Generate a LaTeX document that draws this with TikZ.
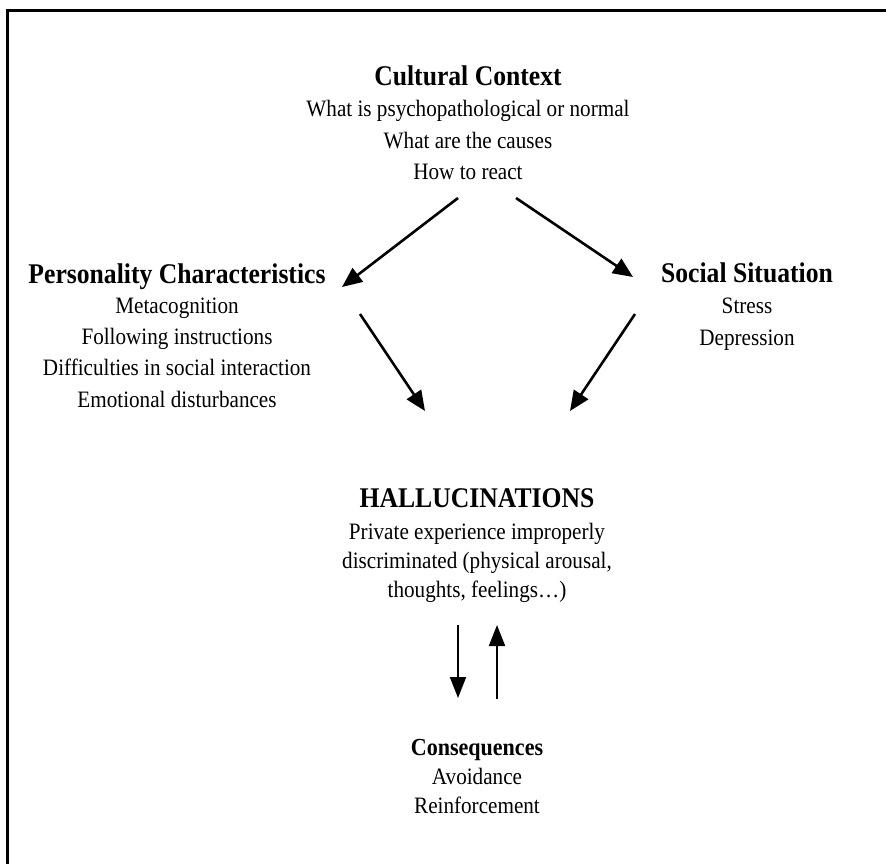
\documentclass[tikz,border=0pt]{standalone}
\usepackage{fontspec}
\setmainfont{Liberation Serif}[FakeStretch=0.9]
\usetikzlibrary{arrows.meta}
\begin{document}
\begin{tikzpicture}[x=1pt,y=-1pt,
  txt/.style={anchor=base, inner sep=0pt, font=\fontsize{23.5}{28}\selectfont},
  hd/.style={anchor=base, inner sep=0pt, font=\fontsize{28.5}{34}\selectfont\bfseries},
  hdsmall/.style={anchor=base, inner sep=0pt, font=\fontsize{24.5}{30}\selectfont\bfseries},
  arr/.style={line width=2.6pt, -{Triangle[length=20pt,width=17pt]}},
  varr/.style={line width=2pt, -{Triangle[length=21pt,width=16pt]}},
  frameline/.style={line width=3pt}]
\useasboundingbox (0,0) rectangle (886,863);
% frame (top and left edges visible)
\draw[frameline] (7,870) -- (7,10.5) -- (895,10.5);

% Cultural Context
\node[hd]  (cc)  at (468,85)  {Cultural Context};
\node[txt] (cc1) at (468,116) {What is psychopathological or normal};
\node[txt] (cc2) at (468,148) {What are the causes};
\node[txt] (cc3) at (468,179) {How to react};

% Personality Characteristics
\node[hd]  (pc)  at (177,283) {Personality Characteristics};
\node[txt] (pc1) at (177,313) {Metacognition};
\node[txt] (pc2) at (177,344) {Following instructions};
\node[txt] (pc3) at (177,375) {Difficulties in social interaction};
\node[txt] (pc4) at (177,407) {Emotional disturbances};

% Social Situation
\node[hd]  (ss)  at (747,282) {Social Situation};
\node[txt] (ss1) at (747,313) {Stress};
\node[txt] (ss2) at (747,345) {Depression};

% Hallucinations
\node[hd]  (ha)  at (477,507) {HALLUCINATIONS};
\node[txt] (ha1) at (477,539) {Private experience improperly};
\node[txt] (ha2) at (477,568) {discriminated (physical arousal,};
\node[txt] (ha3) at (477,597) {thoughts, feelings…)};

% Consequences
\node[hdsmall] (co)  at (477,755) {Consequences};
\node[txt]     (co1) at (477,784) {Avoidance};
\node[txt]     (co2) at (477,813) {Reinforcement};

% arrow end points
\coordinate (ccL) at (458,198);
\coordinate (ccR) at (516,198);
\coordinate (pcIn) at (342,287);
\coordinate (ssIn) at (633,277);
\coordinate (pcOut) at (360,314);
\coordinate (ssOut) at (635,314);
\coordinate (haInL) at (425,411);
\coordinate (haInR) at (570,411);
\coordinate (haDownS) at (458,625);
\coordinate (coDownE) at (458,698);
\coordinate (coUpS) at (497,699);
\coordinate (haUpE) at (497,625);

\draw[arr] (ccL) -- (pcIn);
\draw[arr] (ccR) -- (ssIn);
\draw[arr] (pcOut) -- (haInL);
\draw[arr] (ssOut) -- (haInR);
\draw[varr] (haDownS) -- (coDownE);
\draw[varr] (coUpS) -- (haUpE);
\end{tikzpicture}
\end{document}
